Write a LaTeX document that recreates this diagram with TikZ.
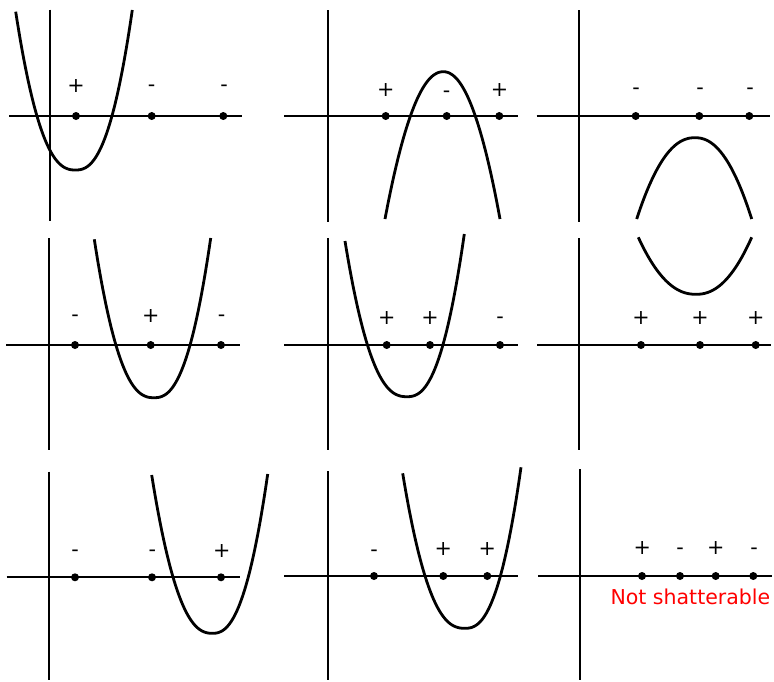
\documentclass[tikz,border=0pt]{standalone}
\usepackage{fontspec}
\setmainfont{DejaVu Sans}
\tikzset{
  axisline/.style={line width=2pt, line cap=butt},
  curveline/.style={line width=2.8pt},
  ptdot/.style={circle, fill=black, inner sep=0pt, minimum size=8pt},
  sgnlabel/.style={font=\fontsize{20.7}{24}\selectfont, inner sep=0pt, anchor=center},
  minuslabel/.style={sgnlabel, yshift=-2.4pt},
}
% vx vy dL yL dR yR p
\newcommand\pcurve[7]{%
  \draw[curveline] plot[domain=-#3:#5, samples=90, variable=\t, smooth]
   ({#1+\t}, {#2 + (\t<0)*((#4)-(#2))*pow((abs(\t)+0.001)/(#3),#7) + (\t>=0)*((#6)-(#2))*pow((abs(\t)+0.001)/(#5),#7)});
}
\begin{document}
\begin{tikzpicture}[x=1pt,y=-1pt]
\useasboundingbox (0,0) rectangle (774,681);
% ---------- axes ----------
\coordinate (v11a) at (49.7,9.7);   \coordinate (v11b) at (49.7,221);
\coordinate (h11a) at (9,116);      \coordinate (h11b) at (242.3,116);
\coordinate (v12a) at (327.7,10);   \coordinate (v12b) at (327.7,221.7);
\coordinate (h12a) at (284,116);    \coordinate (h12b) at (518.3,116);
\coordinate (v13a) at (579.3,10);   \coordinate (v13b) at (579.3,222);
\coordinate (h13a) at (536.7,116);  \coordinate (h13b) at (770,116);
\coordinate (v21a) at (49.3,238.3); \coordinate (v21b) at (49.3,450);
\coordinate (h21a) at (6,345);      \coordinate (h21b) at (240,345);
\coordinate (v22a) at (327.7,238.3);\coordinate (v22b) at (327.7,450);
\coordinate (h22a) at (284.3,345);  \coordinate (h22b) at (518.3,345);
\coordinate (v23a) at (579.3,238.3);\coordinate (v23b) at (579.3,450);
\coordinate (h23a) at (537.3,345.3);\coordinate (h23b) at (770.7,345.3);
\coordinate (v31a) at (49.3,471.7); \coordinate (v31b) at (49.3,680);
\coordinate (h31a) at (6.7,577.3);  \coordinate (h31b) at (240,577.3);
\coordinate (v32a) at (327.7,471);  \coordinate (v32b) at (327.7,680);
\coordinate (h32a) at (284.3,576);  \coordinate (h32b) at (518.3,576);
\coordinate (v33a) at (580,469.3);  \coordinate (v33b) at (580,680);
\coordinate (h33a) at (538.3,576);  \coordinate (h33b) at (771.7,576);
\foreach \p in {11,12,13,21,22,23,31,32,33}{
  \draw[axisline] (v\p a) -- (v\p b);
  \draw[axisline] (h\p a) -- (h\p b);
}
% ---------- curves ----------
\pcurve{75.5}{170}{59.8}{11.7}{56.8}{10}{2.45}
\pcurve{443.3}{71.7}{58.3}{219}{56.7}{219}{2.1}
\pcurve{695}{137.7}{58.3}{219}{56.7}{219}{2.2}
\pcurve{154}{397.7}{59.7}{239.3}{56.7}{238}{2.45}
\pcurve{407}{396.7}{62}{241}{57.3}{234}{2.45}
\pcurve{696}{294.3}{57.7}{237.3}{55.7}{237.3}{2.2}
\pcurve{212.5}{633.3}{60.8}{475}{55.2}{474}{2.4}
\pcurve{465}{628.3}{62.3}{473.3}{56}{467.3}{2.45}
% ---------- dots ----------
\node[ptdot] (d11a) at (76,116) {};
\node[ptdot] (d11b) at (151.7,116) {};
\node[ptdot] (d11c) at (223.3,116) {};
\node[ptdot] (d12a) at (385.7,116) {};
\node[ptdot] (d12b) at (446.7,116) {};
\node[ptdot] (d12c) at (499.3,116) {};
\node[ptdot] (d13a) at (635.7,116) {};
\node[ptdot] (d13b) at (699.3,116) {};
\node[ptdot] (d13c) at (749.3,116) {};
\node[ptdot] (d21a) at (75,345) {};
\node[ptdot] (d21b) at (150.7,345) {};
\node[ptdot] (d21c) at (221,345) {};
\node[ptdot] (d22a) at (386.7,345) {};
\node[ptdot] (d22b) at (430,345) {};
\node[ptdot] (d22c) at (500,345) {};
\node[ptdot] (d23a) at (641,345) {};
\node[ptdot] (d23b) at (700,345) {};
\node[ptdot] (d23c) at (755.7,345) {};
\node[ptdot] (d31a) at (75,577.3) {};
\node[ptdot] (d31b) at (152,577.3) {};
\node[ptdot] (d31c) at (221,577.3) {};
\node[ptdot] (d32a) at (374,576) {};
\node[ptdot] (d32b) at (443.3,576) {};
\node[ptdot] (d32c) at (487.3,576) {};
\node[ptdot] (d33a) at (642,576) {};
\node[ptdot] (d33b) at (680,576) {};
\node[ptdot] (d33c) at (715.7,576) {};
\node[ptdot] (d33d) at (753.3,576) {};
% ---------- labels ----------
\node[sgnlabel]   (l11a) at (76,85.8) {+};
\node[minuslabel] (l11b) at (151.7,85.7) {-};
\node[minuslabel] (l11c) at (224,85.7) {-};
\node[sgnlabel]   (l12a) at (385.7,89.7) {+};
\node[minuslabel] (l12b) at (446.7,92.3) {-};
\node[sgnlabel]   (l12c) at (499.6,89.7) {+};
\node[minuslabel] (l13a) at (636,89.3) {-};
\node[minuslabel] (l13b) at (700,89.3) {-};
\node[minuslabel] (l13c) at (750,89.3) {-};
\node[minuslabel] (l21a) at (75,315.7) {-};
\node[sgnlabel]   (l21b) at (150.7,315.7) {+};
\node[minuslabel] (l21c) at (221.7,316) {-};
\node[sgnlabel]   (l22a) at (386.7,317.7) {+};
\node[sgnlabel]   (l22b) at (430,317.7) {+};
\node[minuslabel] (l22c) at (500,317.7) {-};
\node[sgnlabel]   (l23a) at (641,317.7) {+};
\node[sgnlabel]   (l23b) at (700,318.3) {+};
\node[sgnlabel]   (l23c) at (755.7,318.3) {+};
\node[minuslabel] (l31a) at (75,550.7) {-};
\node[minuslabel] (l31b) at (152.3,550.7) {-};
\node[sgnlabel]   (l31c) at (221.7,550.7) {+};
\node[minuslabel] (l32a) at (374,550.7) {-};
\node[sgnlabel]   (l32b) at (443.3,549.3) {+};
\node[sgnlabel]   (l32c) at (487.3,549.3) {+};
\node[sgnlabel]   (l33a) at (642.3,548.3) {+};
\node[minuslabel] (l33b) at (680,548.7) {-};
\node[sgnlabel]   (l33c) at (715.7,548.3) {+};
\node[minuslabel] (l33d) at (754,548.7) {-};
\node[font=\fontsize{20.5}{24}\selectfont, text=red, inner sep=0pt, anchor=base] (ns) at (690.4,604) {Not shatterable};
\end{tikzpicture}
\end{document}
